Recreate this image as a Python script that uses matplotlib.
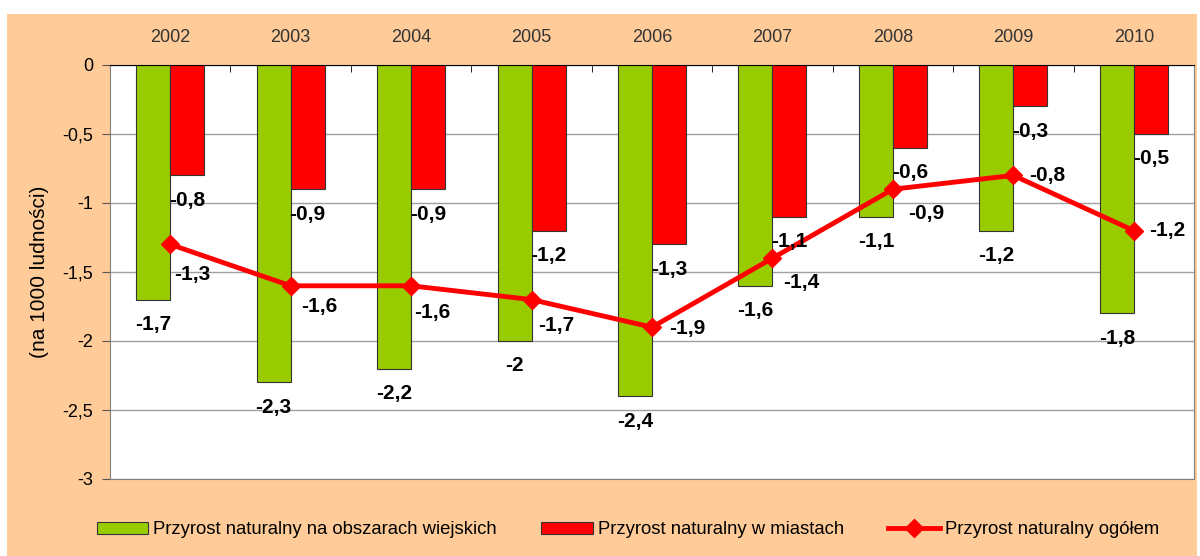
import matplotlib
matplotlib.use('Agg')
import matplotlib.pyplot as plt
from matplotlib.patches import Rectangle

plt.rcParams['font.family'] = ['Liberation Sans', 'DejaVu Sans']

# dane
years = ['2002', '2003', '2004', '2005', '2006', '2007', '2008', '2009', '2010']
wies = [-1.7, -2.3, -2.2, -2.0, -2.4, -1.6, -1.1, -1.2, -1.8]
miasta = [-0.8, -0.9, -0.9, -1.2, -1.3, -1.1, -0.6, -0.3, -0.5]
ogolem = [-1.3, -1.6, -1.6, -1.7, -1.9, -1.4, -0.9, -0.8, -1.2]
y_ticks = [0, -0.5, -1, -1.5, -2, -2.5, -3]
y_tick_labels = ['0', '-0,5', '-1', '-1,5', '-2', '-2,5', '-3']

# przesuniecia etykiet linii (px: w prawo, w dol)
line_label_offsets = [(22, 30), (29, 21), (21, 27), (25, 26), (35, 1),
                      (29, 24), (33, 24), (34, 0), (33, 0)]

def fmt(v):
    return ('%g' % v).replace('.', ',')

peach = '#FFCC99'
green = '#99CC00'
red = '#FF0000'

fig = plt.figure(figsize=(12, 5.56), dpi=100)
fig.patch.set_facecolor('white')
bg = Rectangle((7 / 1200, 0), 1190 / 1200, 542 / 556, transform=fig.transFigure,
               facecolor=peach, edgecolor='none', zorder=-10)
fig.add_artist(bg)

ax = fig.add_axes([110 / 1200, 77 / 556, 1084 / 1200, 414 / 556])
ax.set_zorder(1)
ax.set_facecolor('white')

x = list(range(len(years)))
w = 0.2825
b1 = ax.bar([i - w / 2 for i in x], wies, width=w, color=green, edgecolor='#333333',
            linewidth=0.8, zorder=2)
b2 = ax.bar([i + w / 2 for i in x], miasta, width=w, color=red, edgecolor='#333333',
            linewidth=0.8, zorder=2)
l1, = ax.plot(x, ogolem, color=red, linewidth=3.5, marker='D', markersize=9, zorder=4)

px = 0.72  # px -> pt przy dpi 100
for i in x:
    ax.annotate(fmt(wies[i]), (i - w / 2, wies[i]), xytext=(0, -25 * px),
                textcoords='offset points', ha='center', va='center',
                fontsize=15, fontweight='bold', zorder=5)
    ax.annotate(fmt(miasta[i]), (i + w / 2, miasta[i]), xytext=(0, -25 * px),
                textcoords='offset points', ha='center', va='center',
                fontsize=15, fontweight='bold', zorder=5)
    dx, dy = line_label_offsets[i]
    ax.annotate(fmt(ogolem[i]), (i, ogolem[i]), xytext=(dx * px, -dy * px),
                textcoords='offset points', ha='center', va='center',
                fontsize=15, fontweight='bold', zorder=5)

ax.set_xlim(-0.5, len(years) - 0.5)
ax.set_ylim(-3, 0)
ax.set_yticks(y_ticks)
ax.set_yticklabels(y_tick_labels, fontsize=13)
ax.set_xticks(x)
ax.set_xticklabels(years, fontsize=13, color='#333333')
ax.set_xticks([i + 0.5 for i in x[:-1]], minor=True)
ax.xaxis.tick_top()
ax.tick_params(axis='x', which='major', length=0, pad=14)
ax.tick_params(axis='x', which='minor', direction='in', length=5, color='black', top=True, bottom=False)
ax.tick_params(axis='y', which='major', direction='out', length=6, color='#555555', pad=6)
ax.yaxis.grid(True, color='#A0A0A0', linewidth=1, zorder=0)
ax.set_axisbelow(True)

for s in ['left', 'right', 'bottom']:
    ax.spines[s].set_color('#808080')
ax.spines['top'].set_color('black')

ax.set_ylabel('(na 1000 ludności)', fontsize=15)
ax.yaxis.set_label_coords(-61 / 1084, 0.5)

fig.legend([b1, b2, l1],
           ['Przyrost naturalny na obszarach wiejskich', 'Przyrost naturalny w miastach',
            'Przyrost naturalny ogółem'],
           loc='center', bbox_to_anchor=(628 / 1200, 26 / 556), ncol=3,
           frameon=False, fontsize=13.3, handlelength=2.8, handleheight=0.65,
           handletextpad=0.27, columnspacing=2.4)

fig.savefig('out.png', dpi=100, facecolor=fig.get_facecolor())
